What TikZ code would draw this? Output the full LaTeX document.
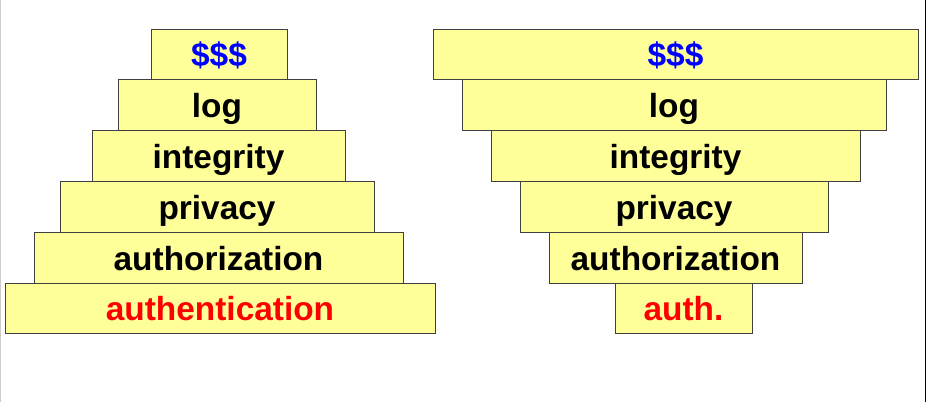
\documentclass[tikz,border=0pt]{standalone}
\usepackage{fontspec}
\setmainfont{Liberation Sans}
\usepackage{xcolor}
\usepackage{tikz}
\usetikzlibrary{positioning}

\definecolor{paleyellow}{RGB}{255,255,153}

\begin{document}
\begin{tikzpicture}[
    node distance=0pt,
    layer/.style={rectangle,draw=black!75,fill=paleyellow,line width=0.8pt,
                  minimum height=50.8pt,inner sep=0pt,outer sep=0pt,
                  text height=25pt,text depth=0pt,
                  font=\fontsize{33.4}{40}\selectfont\bfseries},
]
\useasboundingbox (0,0) rectangle (927pt,402pt);
\draw[black!20,line width=1pt] (0.5pt,0) -- (0.5pt,402pt);
\draw[black,line width=1.5pt] (925.3pt,0) -- (925.3pt,402pt);

% left stack: wide at the bottom
\node[layer,minimum width=136pt,text=blue] (l1) at (219pt,347.6pt) {\$\$\$};
\node[layer,minimum width=198pt,below=of l1,xshift=-2pt] (l2) {log};
\node[layer,minimum width=253pt,below=of l2,xshift=1.5pt] (l3) {integrity};
\node[layer,minimum width=314pt,below=of l3,xshift=-1.5pt] (l4) {privacy};
\node[layer,minimum width=369pt,below=of l4,xshift=1.5pt] (l5) {authorization};
\node[layer,minimum width=430pt,below=of l5,xshift=1.5pt,text=red] (l6) {authentication};

% right stack: wide at the top
\node[layer,minimum width=485pt,text=blue] (r1) at (675.5pt,347.6pt) {\$\$\$};
\node[layer,minimum width=424pt,below=of r1,xshift=-1.5pt] (r2) {log};
\node[layer,minimum width=369pt,below=of r2,xshift=1.5pt] (r3) {integrity};
\node[layer,minimum width=308pt,below=of r3,xshift=-1.5pt] (r4) {privacy};
\node[layer,minimum width=253pt,below=of r4,xshift=1.5pt] (r5) {authorization};
\node[layer,minimum width=137pt,below=of r5,xshift=8pt,text=red] (r6) {auth.};
\end{tikzpicture}
\end{document}
